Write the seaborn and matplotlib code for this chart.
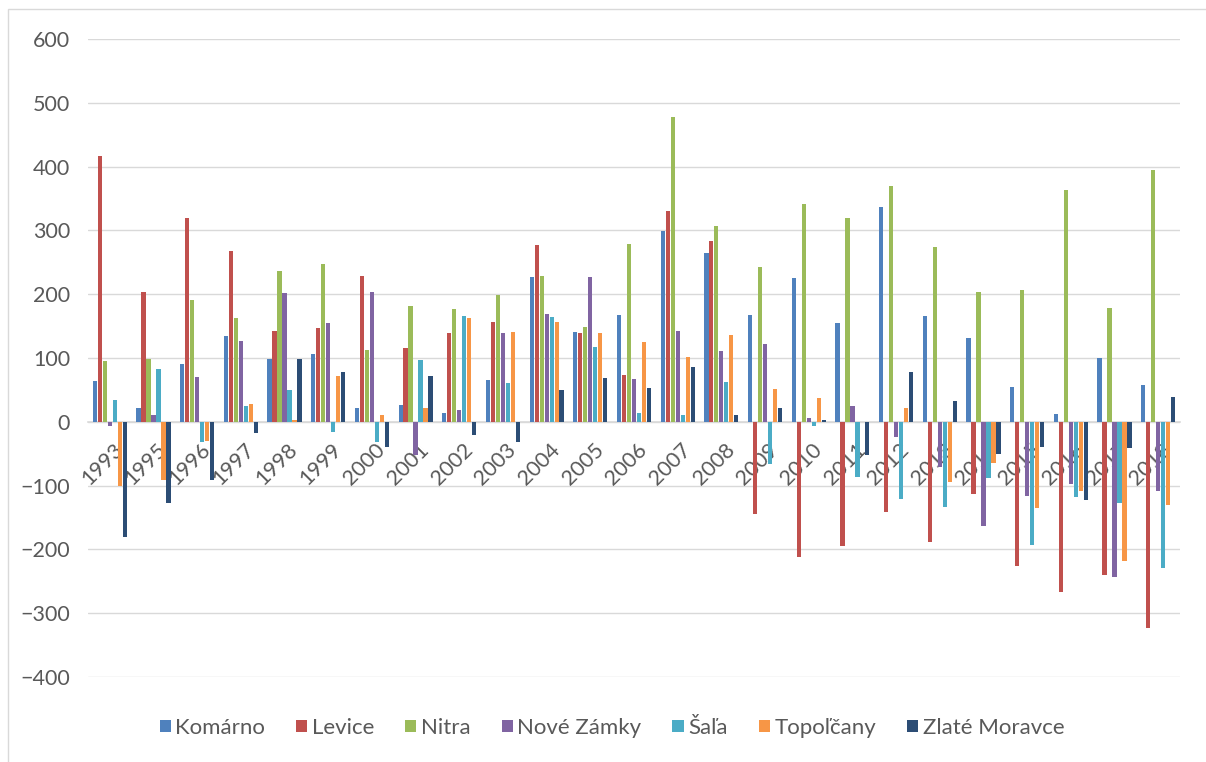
import matplotlib
matplotlib.use("Agg")
import matplotlib.pyplot as plt
from matplotlib.patches import Rectangle
from matplotlib.transforms import ScaledTranslation
import seaborn as sns
import pandas as pd

years = ["1993", "1995", "1996", "1997", "1998", "1999", "2000", "2001", "2002",
         "2003", "2004", "2005", "2006", "2007", "2008", "2009", "2010", "2011",
         "2012", "2013", "2014", "2015", "2016", "2017", "2018"]

komarno = [64, 21, 90, 135, 99, 107, 22, 26, 14, 66, 227, 140, 167, 299, 264,
           168, 226, 155, 336, 166, 131, 54, 13, 100, 58]
levice = [416, 204, 320, 268, 143, 147, 229, 116, 139, 157, 277, 139, 74, 331, 283,
          -145, -212, -194, -141, -188, -113, -226, -266, -240, -323]
nitra = [96, 99, 191, 162, 237, 247, 113, 182, 177, 199, 229, 149, 278, 478, 307,
         242, 342, 319, 370, 274, 204, 207, 363, 179, 395]
nove_zamky = [-7, 10, 70, 127, 202, 155, 203, -52, 19, 139, 169, 227, 67, 143, 111,
              122, 6, 24, -24, -71, -163, -117, -97, -243, -108]
sala = [34, 83, -32, 25, 50, -16, -31, 97, 166, 61, 164, 117, 14, 10, 63,
        -66, -6, -87, -121, -134, -88, -193, -118, -128, -229]
topolcany = [-101, -92, -30, 28, 3, 72, 11, 22, 163, 141, 156, 139, 125, 101, 136,
             51, 37, 0, 22, -95, -64, -135, -109, -218, -131]
zlate_moravce = [-180, -127, -91, -18, 99, 78, -39, 72, -20, -31, 50, 69, 53, 86, 10,
                 22, 3, -52, 78, 32, -51, -40, -123, -41, 39]

series_names = ["Komárno", "Levice", "Nitra", "Nové Zámky", "Šaľa", "Topoľčany", "Zlaté Moravce"]
series_values = [komarno, levice, nitra, nove_zamky, sala, topolcany, zlate_moravce]
colors = ["#4F81BD", "#C0504D", "#9BBB59", "#8064A2", "#4BACC6", "#F79646", "#2C4D75"]

rows = []
for name, vals in zip(series_names, series_values):
    for y, v in zip(years, vals):
        rows.append({"year": y, "district": name, "value": v})
df = pd.DataFrame(rows)

sns.set_style("white")
plt.rcParams["font.family"] = ["Lato", "DejaVu Sans"]

fig = plt.figure(figsize=(12.06, 7.62), dpi=100)
ax = fig.add_axes([88 / 1206, 1 - 677 / 762, (1180 - 88) / 1206, (677 - 39) / 762])

sns.barplot(data=df, x="year", y="value", hue="district", order=years,
            hue_order=series_names, palette=colors, width=0.8, gap=0.15,
            saturation=1, ax=ax, legend=True, zorder=3, linewidth=0)

grid_c = "#D9D9D9"
text_c = "#595959"
fs = 15.5
ax.set_ylim(-400, 600)
ax.set_xlim(-0.5, len(years) - 0.5)
ax.set_yticks(range(-400, 601, 100))
ax.yaxis.grid(True, color=grid_c, linewidth=1.0, zorder=0)
ax.set_axisbelow(True)
for s in ["left", "right", "top"]:
    ax.spines[s].set_visible(False)
ax.spines["bottom"].set_position(("data", 0))
ax.spines["bottom"].set_color(grid_c)
ax.spines["bottom"].set_linewidth(1.2)
ax.spines["bottom"].set_zorder(2)
ax.tick_params(axis="both", length=0, labelsize=fs, labelcolor=text_c)
ax.tick_params(axis="y", pad=13)
ax.tick_params(axis="x", pad=13)
shift = ScaledTranslation(3 / 100, 0, fig.dpi_scale_trans)
for lbl in ax.get_xticklabels():
    lbl.set_rotation(45)
    lbl.set_ha("right")
    lbl.set_va("top")
    lbl.set_rotation_mode("anchor")
    lbl.set_transform(lbl.get_transform() + shift)
ax.set_xlabel("")
ax.set_ylabel("")

handles, labels = ax.get_legend_handles_labels()
ax.get_legend().remove()
fig.legend(handles, labels, loc="center", bbox_to_anchor=(612 / 1206, 1 - 728 / 762),
           ncol=7, frameon=False, fontsize=16, labelcolor=text_c,
           handlelength=0.5, handleheight=0.5, handletextpad=0.2, columnspacing=1.4)

fig.add_artist(Rectangle((8 / 1206, -0.1), 1.2, 1 - 9 / 762 + 0.1,
                         transform=fig.transFigure, fill=False,
                         edgecolor=grid_c, linewidth=1.0))

fig.savefig("out.png", dpi=100)
